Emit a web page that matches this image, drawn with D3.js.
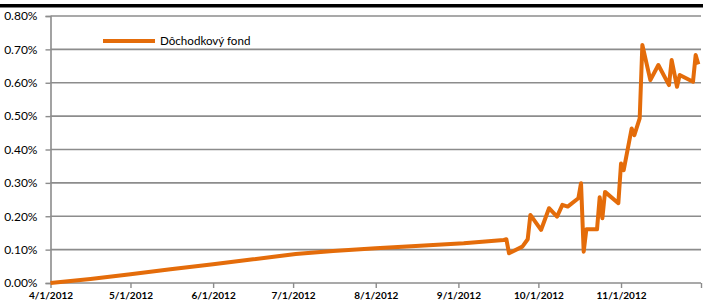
<!DOCTYPE html>
<html><head><meta charset="utf-8">
<script src="https://cdn.jsdelivr.net/npm/d3@7"></script>
<style>body{margin:0;background:#fff;}svg{display:block;}</style>
</head><body>
<script>
const seriesName = "Dôchodkový fond";
const dates = ["2012-04-01","2012-04-16","2012-05-01","2012-05-16","2012-06-01","2012-06-16","2012-07-02","2012-07-16","2012-08-01","2012-08-16","2012-09-03","2012-09-18","2012-09-19",
"2012-09-20","2012-09-25","2012-09-27","2012-09-28","2012-10-02","2012-10-05","2012-10-08","2012-10-10","2012-10-12","2012-10-16","2012-10-17","2012-10-18","2012-10-19",
"2012-10-23","2012-10-24","2012-10-25","2012-10-26","2012-10-31","2012-11-01","2012-11-02","2012-11-05","2012-11-06","2012-11-08","2012-11-09","2012-11-12","2012-11-15",
"2012-11-19","2012-11-20","2012-11-22","2012-11-23","2012-11-28","2012-11-29","2012-11-30"];
const values = [0.000,0.012,0.026,0.041,0.056,0.071,0.087,0.096,0.104,0.111,0.119,0.129,0.131,
0.089,0.109,0.131,0.204,0.159,0.224,0.199,0.234,0.229,0.254,0.299,0.094,0.161,
0.161,0.257,0.194,0.273,0.239,0.358,0.338,0.463,0.443,0.493,0.713,0.608,0.653,
0.593,0.668,0.588,0.623,0.603,0.683,0.655];
const yTicks = [0,0.1,0.2,0.3,0.4,0.5,0.6,0.7,0.8];
const xTicks = ["2012-04-01","2012-05-01","2012-06-01","2012-07-01","2012-08-01","2012-09-01","2012-10-01","2012-11-01","2012-12-01"];
const xTickLabels = ["4/1/2012","5/1/2012","6/1/2012","7/1/2012","8/1/2012","9/1/2012","10/1/2012","11/1/2012",""];

const W=703,H=302;
const parse=d3.timeParse("%Y-%m-%d");
const data=dates.map((d,i)=>({d:parse(d),v:values[i]}));
const svg=d3.select("body").append("svg").attr("width",W).attr("height",H);
const font="Lato, 'Open Sans', sans-serif";
const orange="#E46C0A";

svg.append("rect").attr("x",0).attr("y",4).attr("width",W).attr("height",3.5).attr("fill","#000");

const x=d3.scaleTime().domain([parse(xTicks[0]),parse(xTicks[xTicks.length-1])]).range([50.5,701]);
const y=d3.scaleLinear().domain([0,0.8]).range([283,16]);

svg.append("g").selectAll("line").data(yTicks.slice(1)).join("line")
 .attr("x1",50.5).attr("x2",701).attr("y1",d=>y(d)).attr("y2",d=>y(d))
 .attr("stroke","#8c8c8c").attr("stroke-width",1.6);

const ya=svg.append("g").attr("transform","translate(50.5,0)")
 .call(d3.axisLeft(y).tickValues(yTicks).tickSize(5).tickPadding(8).tickFormat(d=>d.toFixed(2)+"%"));
ya.select(".domain").attr("stroke","#8c8c8c").attr("stroke-width",1.6);
ya.selectAll(".tick line").attr("stroke","#8c8c8c").attr("stroke-width",1.4);
ya.selectAll("text").attr("font-family",font).attr("font-size",12).attr("fill","#000").attr("x",-13);

const xa=svg.append("g").attr("transform","translate(0,283)")
 .call(d3.axisBottom(x).tickValues(xTicks.map(parse)).tickSize(5).tickPadding(4)
 .tickFormat((d,i)=>xTickLabels[i]));
xa.select(".domain").attr("stroke","#8c8c8c").attr("stroke-width",1.6).attr("d","M50.5,0H701");
xa.selectAll(".tick line").attr("stroke","#8c8c8c").attr("stroke-width",1.4);
xa.selectAll("text").attr("font-family",font).attr("font-size",10).attr("fill","#000").attr("font-weight","bold");

svg.append("path").datum(data)
 .attr("d",d3.line().x(d=>x(d.d)).y(d=>y(d.v)))
 .attr("fill","none").attr("stroke",orange).attr("stroke-width",4).attr("stroke-linejoin","round");

svg.append("line").attr("x1",103).attr("x2",155).attr("y1",41).attr("y2",41)
 .attr("stroke",orange).attr("stroke-width",4);
svg.append("text").attr("x",160).attr("y",45).attr("font-family",font).attr("font-size",11.6)
 .attr("fill","#000").text(seriesName);
</script>
</body></html>
